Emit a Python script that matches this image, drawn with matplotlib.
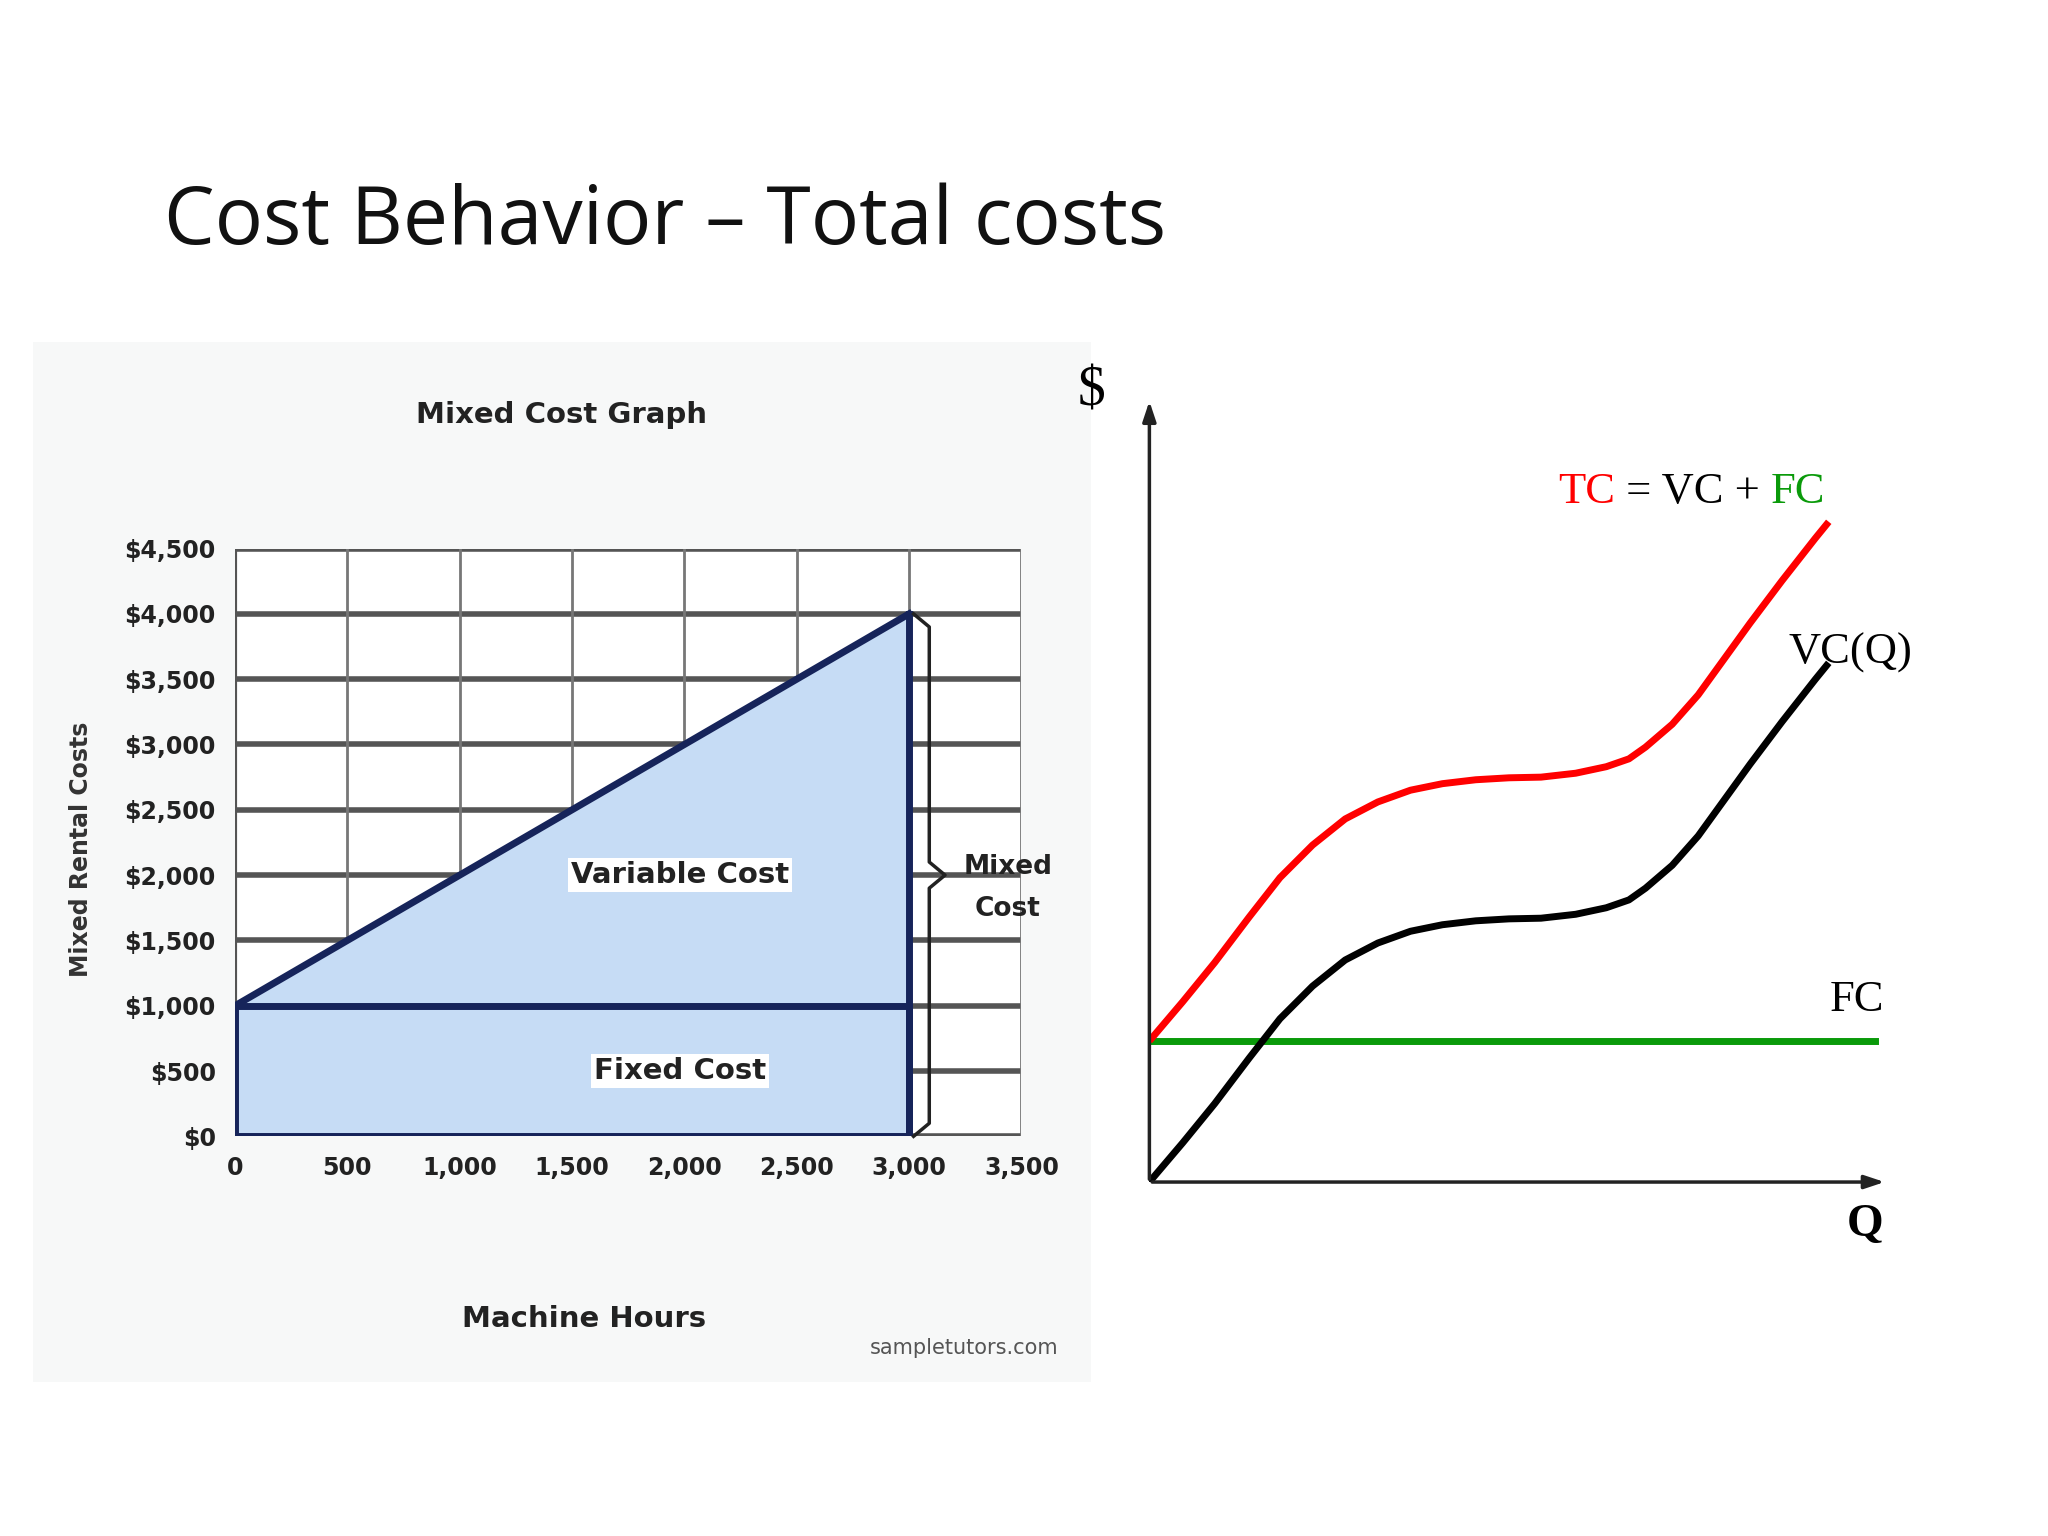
import matplotlib
matplotlib.use('Agg')
from matplotlib import pyplot as plt
from matplotlib.patches import Polygon, Rectangle

# left chart data (mixed cost graph)
hours = [0, 3000]
fixed_cost = 1000
mixed_cost = [1000, 4000]
x_ticks = [0, 500, 1000, 1500, 2000, 2500, 3000, 3500]
x_labels = ['0', '500', '1,000', '1,500', '2,000', '2,500', '3,000', '3,500']
y_ticks = [0, 500, 1000, 1500, 2000, 2500, 3000, 3500, 4000, 4500]
y_labels = ['$0', '$500', '$1,000', '$1,500', '$2,000', '$2,500', '$3,000', '$3,500', '$4,000', '$4,500']

# right chart data
q = [0, 0.5, 0.98, 1.5, 1.96, 2.45, 2.94, 3.43, 3.92, 4.4, 4.9, 5.4, 5.88, 6.4, 6.86, 7.2, 7.45, 7.85, 8.24, 8.63, 9.02, 9.5, 10.0, 10.2]
vc = [0, 0.6, 1.2, 1.9, 2.5, 3.0, 3.4, 3.66, 3.84, 3.94, 4.0, 4.03, 4.04, 4.1, 4.2, 4.32, 4.5, 4.85, 5.3, 5.85, 6.4, 7.05, 7.7, 7.95]
fc = 2.16

fig = plt.figure(figsize=(20.48, 15.36), dpi=100)
fig.patch.set_facecolor('white')

fig.text(0.08, 0.855, 'Cost Behavior \u2013 Total costs', fontsize=58, family='Open Sans',
         va='center', ha='left', color='#111111')

# background panel of the left picture
bg = fig.add_axes([25/1568, 1-1058/1176, 810/1568, 796/1176])
bg.set_facecolor('#f7f8f8')
bg.set_xticks([]); bg.set_yticks([])
for s in bg.spines.values():
    s.set_visible(False)

narrow = dict(family='DejaVu Sans', weight='bold', color='#222222')

ax = fig.add_axes([180/1568, 1-870/1176, 602/1568, 450/1176])
ax.set_facecolor('white')
ax.set_xlim(0, 3500)
ax.set_ylim(0, 4500)
for y in y_ticks:
    ax.axhline(y, color='#555555', lw=4, zorder=1)
for x in x_ticks[1:]:
    ax.axvline(x, color='#777777', lw=2, zorder=1)
ax.add_patch(Polygon([(0, 0), (hours[1], 0), (hours[1], mixed_cost[1]), (0, mixed_cost[0])],
                     closed=True, facecolor='#c6dcf5', edgecolor='none', zorder=2))
ax.plot(hours, mixed_cost, color='#16245a', lw=5, zorder=3)
ax.add_patch(Rectangle((0, 0), hours[1], fixed_cost, fill=False, edgecolor='#16245a', lw=5, zorder=3))
ax.plot([hours[1], hours[1]], [0, mixed_cost[1]], color='#16245a', lw=5, zorder=3)
ax.set_xticks(x_ticks)
ax.set_xticklabels(x_labels, fontsize=17, **narrow)
ax.set_yticks(y_ticks)
ax.set_yticklabels(y_labels, fontsize=17, **narrow)
ax.tick_params(length=0, pad=14)
for s in ax.spines.values():
    s.set_visible(False)
ax.axvline(0, color='#555555', lw=3, zorder=1)
ax.text(1980, 2000, 'Variable Cost', fontsize=21, ha='center', va='center', zorder=4,
        bbox=dict(facecolor='white', edgecolor='none', pad=2), **narrow)
ax.text(1980, 500, 'Fixed Cost', fontsize=21, ha='center', va='center', zorder=4,
        bbox=dict(facecolor='white', edgecolor='none', pad=2), **narrow)
# curly brace, drawn as a thin line
ax.plot([3020, 3090, 3090, 3160, 3090, 3090, 3020],
        [4000, 3900, 2100, 2000, 1900, 100, 0], color='#222222', lw=2.5, clip_on=False, zorder=4)
ax.text(3440, 1900, 'Mixed\nCost', fontsize=19, ha='center', va='center', clip_on=False,
        linespacing=1.8, **narrow)

fig.text(430/1568, 1-318/1176, 'Mixed Cost Graph', fontsize=21, ha='center', va='center', **narrow)
fig.text(447/1568, 1-1010/1176, 'Machine Hours', fontsize=21, ha='center', va='center', **narrow)
fig.text(62/1568, 1-650/1176, 'Mixed Rental Costs', fontsize=17, ha='center', va='center',
         rotation=90, family='DejaVu Sans', weight='bold', color='#333333')
fig.text(738/1568, 1-1032/1176, 'sampletutors.com', fontsize=15, ha='center', va='center',
         color='#555555', family='DejaVu Sans')

# right chart
ax2 = fig.add_axes([880/1568, 1-905/1176, 565/1568, 600/1176])
ax2.set_xlim(0, 11.08)
ax2.set_ylim(0, 12)
ax2.axis('off')
ax2.annotate('', xy=(11.08, 0), xytext=(0, 0),
             arrowprops=dict(arrowstyle='-|>,head_width=0.4,head_length=1.2', lw=2.5, color='#222222'))
ax2.annotate('', xy=(0, 12), xytext=(0, 0),
             arrowprops=dict(arrowstyle='-|>,head_width=0.4,head_length=1.2', lw=2.5, color='#222222'))
ax2.plot([0, 10.9], [fc, fc], color='#0a9a0a', lw=5)
ax2.plot(q, vc, color='black', lw=5, solid_capstyle='butt')
ax2.plot(q, [v + fc for v in vc], color='#ff0000', lw=5, solid_capstyle='butt')

serif = dict(family='Liberation Serif')
fig.text(836/1568, 1-300/1176, '$', fontsize=40, ha='center', va='center', **serif)
fig.text(1428/1568, 1-938/1176, 'Q', fontsize=34, ha='center', va='center', weight='bold', **serif)
fig.text(1422/1568, 1-766/1176, 'FC', fontsize=32, ha='center', va='center', **serif)
fig.text(1417/1568, 1-500/1176, 'VC(Q)', fontsize=32, ha='center', va='center', **serif)
t = fig.text(1193/1568, 1-377/1176, 'TC', fontsize=32, ha='left', va='center', color='#ff0000', **serif)
fig.canvas.draw()
r = fig.canvas.get_renderer()
bb = t.get_window_extent(r)
t2 = fig.text(bb.x1 / fig.bbox.width, 1-377/1176, ' = VC + ', fontsize=32, ha='left', va='center', **serif)
bb2 = t2.get_window_extent(r)
fig.text(bb2.x1 / fig.bbox.width, 1-377/1176, 'FC', fontsize=32, ha='left', va='center', color='#0a9a0a', **serif)

plt.savefig('out.png', dpi=100)
